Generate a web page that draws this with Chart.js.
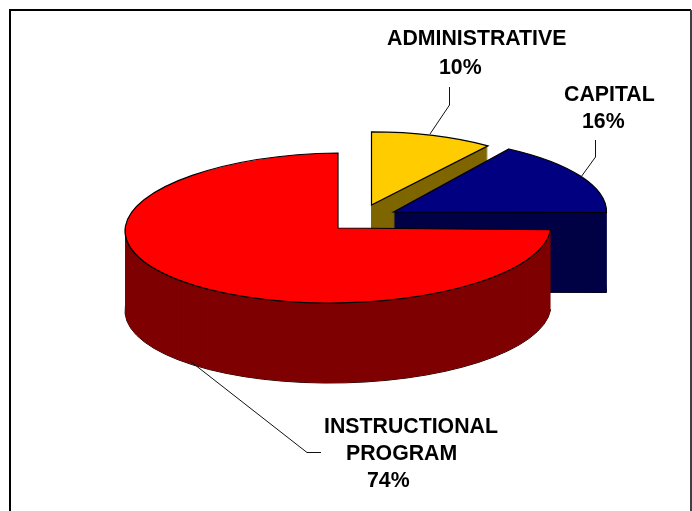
<!DOCTYPE html>
<html>
<head>
<meta charset="utf-8">
<style>
  html, body { margin: 0; padding: 0; background: #fff; }
  canvas { display: block; }
</style>
<script src="https://cdnjs.cloudflare.com/ajax/libs/Chart.js/4.4.0/chart.umd.min.js"></script>
</head>
<body>
<canvas id="chart" width="692" height="511"></canvas>
<script>
const categories = ["ADMINISTRATIVE", "CAPITAL", "INSTRUCTIONAL PROGRAM"]
const percentValues = [10, 16, 74]
const topColors = ["#FFCC00", "#000080", "#FF0000"]
const wallColors = ["#7F6600", "#000046", "#7F0000"]

// where each exploded slice sits on the page, and how the fake 3d view squeezes it
const slicePoses = [
    { x: 371.5, y: 205, sx: 0.93, sy: 0.343, tilt: 0, turn: 0 },
    { x: 393.5, y: 212, sx: 1, sy: 0.352, tilt: 0, turn: -3.2 },
    { x: 338, y: 228, sx: 1, sy: 0.352, tilt: -0.014, turn: 0 }
]
const wallDepth = 80

// label lines: text comes from the arrays above, split as in the picture
const labelLines = [
    [{ text: categories[0], x: 387, y: 45 }, { text: percentValues[0] + "%", x: 439, y: 74 }],
    [{ text: categories[1], x: 564, y: 101 }, { text: percentValues[1] + "%", x: 582, y: 128 }],
    [
        { text: "INSTRUCTIONAL", x: 324, y: 433 },
        { text: "PROGRAM", x: 346, y: 460 },
        { text: percentValues[2] + "%", x: 367, y: 487 }
    ]
]
const leaderLines = [
    [[449.5, 87], [449.5, 105], [430, 134]],
    [[595.5, 140], [595.5, 157], [581, 177]],
    [[190, 361], [307, 452.5], [321, 452.5]]
]

function applyPose(ctx, arc, pose, drop) {
    ctx.translate(pose.x, pose.y + drop)
    ctx.transform(pose.sx, pose.tilt, 0, pose.sy, 0, 0)
    ctx.rotate(pose.turn * Math.PI / 180)
    ctx.translate(-arc.x, -arc.y)
}

// builds the slice outline under the pose, so it can be stroked with an even line afterwards
function slicePath(ctx, arc, pose, drop) {
    ctx.save()
    applyPose(ctx, arc, pose, drop)
    ctx.beginPath()
    ctx.moveTo(arc.x, arc.y)
    ctx.arc(arc.x, arc.y, arc.outerRadius, arc.startAngle, arc.endAngle)
    ctx.closePath()
    ctx.restore()
}

const fakeThreeD = {
    id: "fakeThreeD",
    beforeDatasetsDraw(chart) {
        const ctx = chart.ctx
        chart.getDatasetMeta(0).data.forEach((arc, i) => {
            const pose = slicePoses[i]

            slicePath(ctx, arc, pose, wallDepth)
            ctx.strokeStyle = "#000"
            ctx.lineWidth = 1
            ctx.stroke()
            ctx.fillStyle = wallColors[i]
            for (let d = wallDepth; d > 0; d--) {
                slicePath(ctx, arc, pose, d)
                ctx.fill()
            }

            ctx.save()
            applyPose(ctx, arc, pose, 0)
            arc.draw(ctx)
            ctx.restore()

            slicePath(ctx, arc, pose, 0)
            ctx.strokeStyle = "#000"
            ctx.lineWidth = 1.2
            ctx.stroke()
        })
        return false
    },
    afterDraw(chart) {
        const ctx = chart.ctx
        ctx.save()

        ctx.strokeStyle = "#000"
        ctx.lineWidth = 2
        ctx.beginPath()
        ctx.moveTo(10, 520)
        ctx.lineTo(10, 10)
        ctx.lineTo(691, 10)
        ctx.stroke()
        ctx.strokeStyle = "#404040"
        ctx.beginPath()
        ctx.moveTo(691, 10)
        ctx.lineTo(691, 520)
        ctx.stroke()

        ctx.strokeStyle = "#111"
        ctx.lineWidth = 1
        leaderLines.forEach((pts) => {
            ctx.beginPath()
            pts.forEach((p, i) => i ? ctx.lineTo(p[0], p[1]) : ctx.moveTo(p[0], p[1]))
            ctx.stroke()
        })

        ctx.fillStyle = "#000"
        ctx.font = "bold 21.3px 'Liberation Sans', Arial, sans-serif"
        ctx.textAlign = "left"
        ctx.textBaseline = "alphabetic"
        labelLines.forEach((lines) => {
            lines.forEach((l) => ctx.fillText(l.text, l.x, l.y))
        })
        ctx.restore()
    }
}

new Chart(document.getElementById("chart"), {
    type: "pie",
    data: {
        labels: categories,
        datasets: [{
            data: percentValues,
            backgroundColor: topColors,
            borderWidth: 0
        }]
    },
    options: {
        responsive: false,
        animation: false,
        radius: 213,
        plugins: {
            legend: { display: false },
            tooltip: { enabled: false }
        }
    },
    plugins: [fakeThreeD]
})
</script>
</body>
</html>
